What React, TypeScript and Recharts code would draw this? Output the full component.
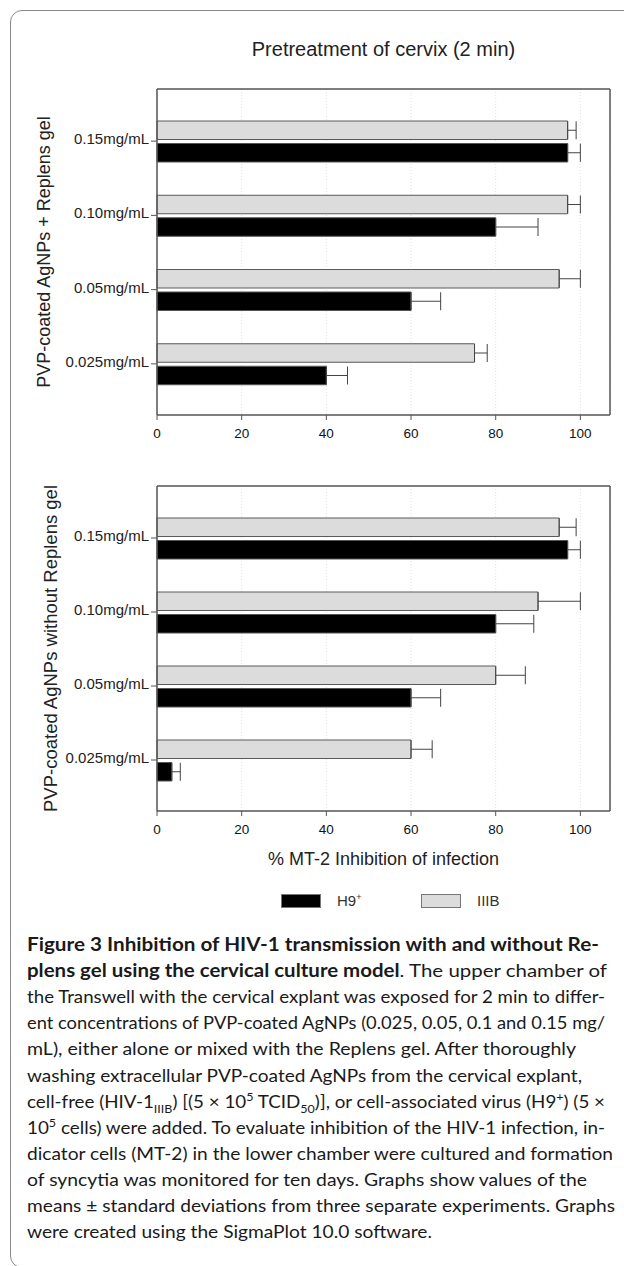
import React from "react"
import { BarChart, Bar, XAxis, YAxis, CartesianGrid, ErrorBar, Label } from "recharts"

const CHART_FONT = "'Liberation Sans', Arial, Helvetica, sans-serif"
const CAPTION_FONT = "Lato, 'Open Sans', sans-serif"

// categories, top to bottom
const concentrations = ["0.15mg/mL", "0.10mg/mL", "0.05mg/mL", "0.025mg/mL"]
const xTicks = [0, 20, 40, 60, 80, 100]

// PVP-coated AgNPs + Replens gel
const gelH9 = [97, 80, 60, 40]
const gelH9Sd = [3, 10, 7, 5]
const gelIIIB = [97, 97, 95, 75]
const gelIIIBSd = [2, 3, 5, 3]

// PVP-coated AgNPs without Replens gel
const noGelH9 = [97, 80, 60, 3.5]
const noGelH9Sd = [3, 9, 7, 2]
const noGelIIIB = [95, 90, 80, 60]
const noGelIIIBSd = [4, 10, 7, 5]

const seriesH9 = { name: "H9", sup: "+", fill: "#000000" }
const seriesIIIB = { name: "IIIB", sup: "", fill: "#dcdcdc" }
const legendOrder = [seriesH9, seriesIIIB]

const AXIS = "#555"

function CatTick(props: any) {
  const { x, y, payload } = props
  return (
    <text x={x} y={y} dy={3} textAnchor="end" fontSize={15} fill="#222">
      {payload.value}
    </text>
  )
}

interface PanelProps {
  h9: number[]
  h9Sd: number[]
  iiib: number[]
  iiibSd: number[]
  yLabel: string
  labelOffset: number
  labelSize: number
  height: number
  top: number
  bottom: number
  xAxisHeight: number
  xLabel?: string
}

function Panel(p: PanelProps) {
  const data = concentrations.map((c, i) => ({
    conc: c,
    h9: p.h9[i],
    h9Err: [0, p.h9Sd[i]],
    iiib: p.iiib[i],
    iiibErr: [0, p.iiibSd[i]],
  }))

  return (
    <BarChart
      width={624}
      height={p.height}
      data={data}
      layout="vertical"
      margin={{ top: p.top - 1, right: 13, bottom: p.bottom, left: 0 }}
      barSize={18.5}
      barGap={4}
      style={{ fontFamily: CHART_FONT }}
    >
      <CartesianGrid horizontal={false} stroke="#e2e2e2" strokeDasharray="1 2" />
      <XAxis
        type="number"
        domain={[0, 107]}
        ticks={xTicks}
        height={p.xAxisHeight}
        tickSize={5}
        tickMargin={8}
        tick={{ fontSize: 13.5, fill: "#111" }}
        axisLine={{ stroke: AXIS, strokeWidth: 1.5 }}
        tickLine={{ stroke: AXIS }}
      >
        {p.xLabel && (
          <Label
            value={p.xLabel}
            position="insideBottom"
            offset={6}
            style={{ fontSize: 18, fill: "#222" }}
          />
        )}
      </XAxis>
      {/* mirror axes close the plot frame */}
      <XAxis
        xAxisId="top"
        orientation="top"
        type="number"
        domain={[0, 107]}
        height={1}
        tick={false}
        tickLine={false}
        axisLine={{ stroke: AXIS, strokeWidth: 1.5 }}
      />
      <YAxis
        type="category"
        dataKey="conc"
        width={157}
        padding={{ top: 15, bottom: 14 }}
        tickSize={6}
        tickMargin={2}
        tick={<CatTick />}
        axisLine={{ stroke: AXIS, strokeWidth: 1.5 }}
        tickLine={{ stroke: AXIS }}
      >
        <Label
          value={p.yLabel}
          angle={-90}
          position="insideLeft"
          offset={p.labelOffset}
          style={{ textAnchor: "middle", fontSize: p.labelSize, fill: "#222" }}
        />
      </YAxis>
      <YAxis
        yAxisId="right"
        orientation="right"
        type="category"
        dataKey="conc"
        width={1}
        tick={false}
        tickLine={false}
        axisLine={{ stroke: AXIS, strokeWidth: 1.5 }}
      />
      <Bar dataKey="iiib" name={seriesIIIB.name} fill={seriesIIIB.fill} stroke="#5a5a5a" strokeWidth={1} isAnimationActive={false}>
        <ErrorBar dataKey="iiibErr" direction="x" width={9} stroke="#444" strokeWidth={1} />
      </Bar>
      <Bar dataKey="h9" name={seriesH9.name} fill={seriesH9.fill} stroke="#555" strokeWidth={1} isAnimationActive={false}>
        <ErrorBar dataKey="h9Err" direction="x" width={9} stroke="#444" strokeWidth={1} />
      </Bar>
    </BarChart>
  )
}

type Seg = { t: string; b?: boolean; sub?: boolean; sup?: boolean }

const captionLines: { segs: Seg[]; w: number }[] = [
  { w: 572, segs: [{ t: "Figure 3 Inhibition of HIV-1 transmission with and without Re-", b: true }] },
  { w: 580, segs: [{ t: "plens gel using the cervical culture model", b: true }, { t: ". The upper chamber of" }] },
  { w: 578, segs: [{ t: "the Transwell with the cervical explant was exposed for 2 min to differ-" }] },
  { w: 578, segs: [{ t: "ent concentrations of PVP-coated AgNPs (0.025, 0.05, 0.1 and 0.15 mg/" }] },
  { w: 549, segs: [{ t: "mL), either alone or mixed with the Replens gel. After thoroughly" }] },
  { w: 555, segs: [{ t: "washing extracellular PVP-coated AgNPs from the cervical explant," }] },
  {
    w: 578,
    segs: [
      { t: "cell-free (HIV-1" },
      { t: "IIIB", sub: true },
      { t: ") [(5 × 10" },
      { t: "5", sup: true },
      { t: " TCID" },
      { t: "50", sub: true },
      { t: ")], or cell-associated virus (H9" },
      { t: "+", sup: true },
      { t: ") (5 ×" },
    ],
  },
  { w: 578, segs: [{ t: "10" }, { t: "5", sup: true }, { t: " cells) were added. To evaluate inhibition of the HIV-1 infection, in-" }] },
  { w: 586, segs: [{ t: "dicator cells (MT-2) in the lower chamber were cultured and formation" }] },
  { w: 560, segs: [{ t: "of syncytia was monitored for ten days. Graphs show values of the" }] },
  { w: 588, segs: [{ t: "means ± standard deviations from three separate experiments. Graphs" }] },
  { w: 405, segs: [{ t: "were created using the SigmaPlot 10.0 software." }] },
]

function Caption() {
  const top = 920
  return (
    <svg
      width={624}
      height={346}
      style={{ position: "absolute", left: 0, top }}
      fontFamily={CAPTION_FONT}
      fontSize={18}
      fill="#1a1a1a"
    >
      {captionLines.map((line, i) => {
        let shift = 0
        return (
          <text
            key={i}
            x={27}
            y={951 - top + i * 26.1}
            textLength={line.w}
            lengthAdjust="spacingAndGlyphs"
          >
            {line.segs.map((s, j) => {
              const target = s.sub ? 5 : s.sup ? -7 : 0
              const dy = target - shift
              shift = target
              return (
                <tspan
                  key={j}
                  dy={dy}
                  fontWeight={s.b ? 700 : 400}
                  fontSize={s.sub || s.sup ? 12 : 18}
                >
                  {s.t}
                </tspan>
              )
            })}
          </text>
        )
      })}
    </svg>
  )
}

function SeriesLegend() {
  const pos = [281, 421]
  return (
    <>
      {legendOrder.map((s, i) => (
        <div
          key={s.name}
          style={{
            position: "absolute",
            left: pos[i],
            top: 892,
            display: "flex",
            alignItems: "center",
            fontFamily: CHART_FONT,
            fontSize: 15,
            color: "#333",
          }}
        >
          <div
            style={{
              width: 40,
              height: 14,
              background: s.fill,
              border: "1px solid #777",
              boxSizing: "border-box",
              marginRight: 16,
            }}
          />
          <span>
            {s.name}
            {s.sup && <sup style={{ fontSize: 9 }}>{s.sup}</sup>}
          </span>
        </div>
      ))}
    </>
  )
}

export default function App() {
  return (
    <div
      style={{
        position: "relative",
        width: 624,
        height: 1266,
        overflow: "hidden",
        background: "#fff",
      }}
    >
      <style>{"body{margin:0}"}</style>
      <div
        style={{
          position: "absolute",
          left: 10,
          top: 10,
          width: 640,
          height: 1258,
          border: "1.2px solid #8a8a8a",
          borderRadius: 12,
          boxSizing: "border-box",
        }}
      />
      <div
        style={{
          position: "absolute",
          left: 157,
          width: 453,
          top: 37,
          textAlign: "center",
          fontFamily: CHART_FONT,
          fontSize: 20,
          lineHeight: "24px",
          color: "#222",
        }}
      >
        Pretreatment of cervix (2 min)
      </div>
      <div style={{ position: "absolute", left: 0, top: 0 }}>
        <Panel
          h9={gelH9}
          h9Sd={gelH9Sd}
          iiib={gelIIIB}
          iiibSd={gelIIIBSd}
          yLabel="PVP-coated AgNPs + Replens gel"
          labelOffset={44}
          labelSize={18}
          height={460}
          top={89}
          bottom={15}
          xAxisHeight={30}
        />
      </div>
      <div style={{ position: "absolute", left: 0, top: 460 }}>
        <Panel
          h9={noGelH9}
          h9Sd={noGelH9Sd}
          iiib={noGelIIIB}
          iiibSd={noGelIIIBSd}
          yLabel="PVP-coated AgNPs without Replens gel"
          labelOffset={50}
          labelSize={18.5}
          height={420}
          top={26}
          bottom={9}
          xAxisHeight={60}
          xLabel="% MT-2 Inhibition of infection"
        />
      </div>
      <SeriesLegend />
      <Caption />
    </div>
  )
}
